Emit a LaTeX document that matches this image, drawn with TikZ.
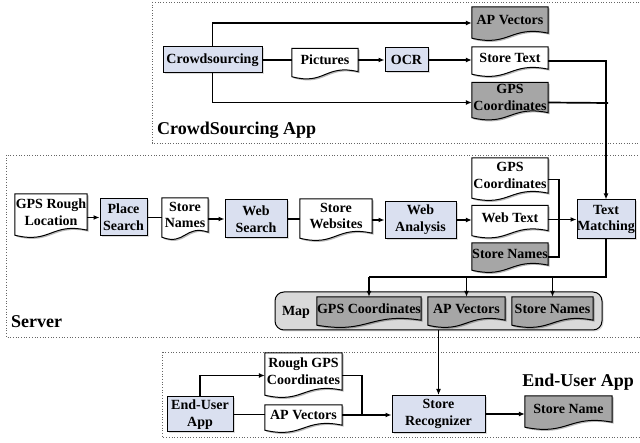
\documentclass[tikz,border=0pt]{standalone}
\usepackage{fontspec}
\setmainfont{Liberation Serif}
\usetikzlibrary{arrows.meta,calc,backgrounds,shadows}
\definecolor{procfill}{RGB}{218,224,240}
\definecolor{docgray}{RGB}{166,166,166}
\definecolor{mapfill}{RGB}{217,217,217}
\newcommand{\nodefont}{\bfseries\fontsize{14}{16.8}\selectfont}
\newcommand{\labelfont}{\bfseries\fontsize{18}{20}\selectfont}
\newcommand{\docshape}[2]{%
  \fill[black,opacity=0.28,transform canvas={shift={(1.5pt,-1.5pt)}}] (#1.north west) -- (#1.north east) -- (#1.south east)
    .. controls ([yshift=8pt]#1.south) and ([yshift=-14pt]#1.south) .. ([yshift=-5pt]#1.south west) -- cycle;
  \draw[line width=1pt, fill=#2] (#1.north west) -- (#1.north east) -- (#1.south east)
    .. controls ([yshift=8pt]#1.south) and ([yshift=-14pt]#1.south) .. ([yshift=-5pt]#1.south west) -- cycle;}
\tikzset{
  proc/.style={draw, line width=1pt, fill=procfill, font=\nodefont, align=center, inner sep=0pt,
    drop shadow={shadow xshift=1.5pt, shadow yshift=-1.5pt, opacity=0.28}},
  doc/.style={inner sep=0pt, font=\nodefont, align=center},
  conn/.style={line width=1.7pt},
  arr/.style={conn, -{Latex[length=6pt,width=5pt]}},
  frame/.style={dotted, line width=0.7pt, black!60},
  mapbox/.style={draw, line width=1pt, fill=mapfill, rounded corners=9pt, inner sep=0pt,
    drop shadow={shadow xshift=1.5pt, shadow yshift=-1.5pt, opacity=0.28}},
  lbl/.style={font=\labelfont, inner sep=0pt}
}
\begin{document}
\begin{tikzpicture}[x=1pt,y=-1pt]
\useasboundingbox (0,0) rectangle (640,443);
% frames and map box
\begin{scope}[on background layer]
  \draw[frame] (152,2) rectangle (646,143);
  \draw[frame] (6,155) rectangle (646,337);
  \draw[frame] (162,352) rectangle (646,437);
  \node[mapbox, minimum width=327pt, minimum height=38pt] (map) at (438.5,311) {};
\end{scope}

% labels
\node[lbl, anchor=west] (lcs) at (157,130) {CrowdSourcing App};
\node[lbl, anchor=west] (lsv) at (11,322) {Server};
\node[lbl, anchor=east] (leu) at (634,382) {End-User App};

% CrowdSourcing App
\node[proc, minimum width=99pt, minimum height=26pt] (cs) at (212.5,60) {Crowdsourcing};
\node[doc, minimum width=66pt, minimum height=23pt] (pic) at (325,60) {Pictures};
\node[proc, minimum width=43pt, minimum height=24pt] (ocr) at (406.5,60) {OCR};
\node[doc, minimum width=76pt, minimum height=26pt] (apv) at (510,20) {AP Vectors};
\node[doc, minimum width=76pt, minimum height=22pt] (st) at (510,58) {Store Text};
\node[doc, minimum width=76pt, minimum height=30pt] (gpsc) at (510,97.5) {GPS\\Coordinates};

% Server
\node[doc, minimum width=72pt, minimum height=36pt] (gpsr) at (51,212) {GPS Rough\\Location};
\node[proc, minimum width=47pt, minimum height=37pt] (ps) at (123.5,217.5) {Place\\Search};
\node[doc, minimum width=46pt, minimum height=34pt] (sn1) at (185,215) {Store\\Names};
\node[proc, minimum width=62pt, minimum height=38pt] (ws) at (256,219) {Web\\Search};
\node[doc, minimum width=72pt, minimum height=34pt] (sw) at (336,216) {Store\\Websites};
\node[proc, minimum width=71pt, minimum height=37pt] (wa) at (420.5,220) {Web\\Analysis};
\node[doc, minimum width=76pt, minimum height=35pt] (gps2) at (510,175.5) {GPS\\Coordinates};
\node[doc, minimum width=76pt, minimum height=25pt] (wt) at (510,218) {Web Text};
\node[doc, minimum width=76pt, minimum height=22pt] (sn2) at (510,254) {Store Names};
\node[proc, minimum width=58pt, minimum height=39pt] (tm) at (606,219.5) {Text\\Matching};

% Map
\node[doc] (maplbl) at (296,312) {Map};
\node[doc, minimum width=102pt, minimum height=23pt] (mg) at (369,308.5) {GPS Coordinates};
\node[doc, minimum width=77pt, minimum height=23pt] (ma) at (466.5,308.5) {AP Vectors};
\node[doc, minimum width=81pt, minimum height=23pt] (ms) at (552.5,308.5) {Store Names};

% End-User App
\node[proc, minimum width=66pt, minimum height=35pt] (eu) at (200,414.5) {End-User\\App};
\node[doc, minimum width=77pt, minimum height=37pt] (rg) at (303.5,371.5) {Rough GPS\\Coordinates};
\node[doc, minimum width=77pt, minimum height=20pt] (av) at (303.5,415) {AP Vectors};
\node[proc, minimum width=93pt, minimum height=37pt] (sr) at (438.5,414) {Store\\Recognizer};
\node[doc, minimum width=87pt, minimum height=26pt] (sname) at (568.5,409) {Store Name};

% document shapes
\begin{scope}[on background layer]
  \docshape{pic}{white}
  \docshape{apv}{docgray}
  \docshape{st}{white}
  \docshape{gpsc}{docgray}
  \docshape{gpsr}{white}
  \docshape{sn1}{white}
  \docshape{sw}{white}
  \docshape{gps2}{white}
  \docshape{wt}{white}
  \docshape{sn2}{docgray}
  \docshape{mg}{docgray}
  \docshape{ma}{docgray}
  \docshape{ms}{docgray}
  \docshape{rg}{white}
  \docshape{av}{white}
  \docshape{sname}{docgray}
\end{scope}

% connectors: CrowdSourcing App
\draw[conn] (cs.east) -- (cs.east -| pic.west);
\draw[arr] (pic.east) -- (pic.east -| ocr.west);
\draw[arr] (ocr.east) -- (ocr.east -| st.west);
\draw[arr] (cs.north) |- ([yshift=-3pt]apv.west);
\draw[arr] (cs.south) |- ([yshift=-5pt]gpsc.west);
\coordinate (jt) at (608,103);
\draw[conn] ([yshift=-5pt]gpsc.east) -- (jt);
\draw[arr] ([yshift=-3pt]st.east) -| (tm.north);

% connectors: Server
\draw[arr] (ps.west -| gpsr.east) -- (ps.west);
\draw[conn] (ps.east) -- (ps.east -| sn1.west);
\draw[arr] (ws.west -| sn1.east) -- (ws.west);
\draw[conn] (ws.east) -- (ws.east -| sw.west);
\draw[arr] (wa.west -| sw.east) -- (wa.west);
\draw[arr] (wa.east) -- (wa.east -| wt.west);
\draw[arr] (tm.west -| wt.east) -- (tm.west);
\coordinate (j1) at (559,219.5);
\draw[conn] ([yshift=-4pt]gps2.east) -| (j1);
\draw[conn] ([yshift=-3pt]sn2.east) -| (j1);
\coordinate (bus) at (369,277);
\draw[conn] (tm.south) |- (bus);
\draw[arr] (bus) -- (mg.north);
\draw[arr] (ma.north |- bus) -- (ma.north);
\draw[arr] (ms.north |- bus) -- (ms.north);

% connectors: End-User App
\draw[arr] (map.south -| sr.north) -- (sr.north);
\draw[arr] (eu.north) |- ([yshift=-4pt]rg.west);
\coordinate (j2) at (362,415);
\draw[conn] ([yshift=-4pt]rg.east) -| (j2);
\draw[conn] (eu.east) -- (eu.east -| av.west);
\draw[arr] (av.east) -- (av.east -| sr.west);
\draw[arr] (sr.east) -- (sr.east -| sname.west);
\end{tikzpicture}
\end{document}
